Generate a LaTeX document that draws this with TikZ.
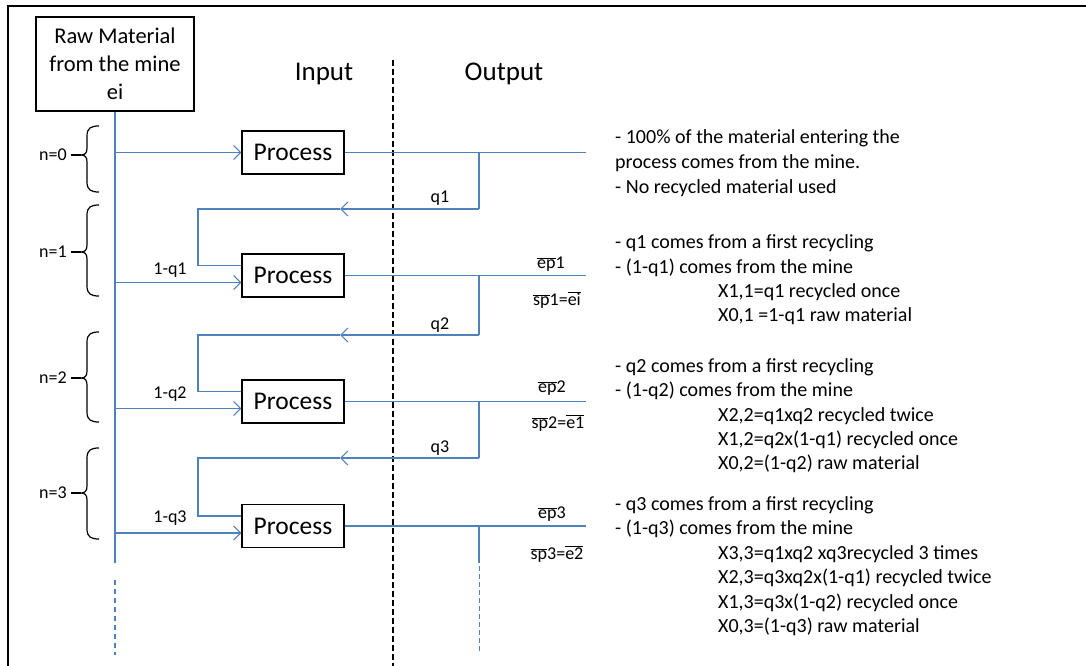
\documentclass[tikz,border=0pt]{standalone}
\usepackage{fontspec}
\setmainfont{Carlito}
\usetikzlibrary{arrows.meta}
\definecolor{flowblue}{RGB}{79,129,189}
\newcommand{\ovl}[1]{\ensuremath{\overline{\mbox{#1}}}}
\begin{document}
\begin{tikzpicture}[x=1pt,y=-1pt,
  flow/.style={draw=flowblue,line width=1.3pt},
  arr/.style={-{Straight Barb[length=7pt,width=14pt,line width=1.2pt]}},
  procbox/.style={draw,line width=1.1pt,minimum width=102pt,minimum height=43pt,inner sep=0pt,font=\fontsize{25.5}{30}\selectfont},
  lbl/.style={inner sep=0pt,font=\fontsize{18}{22}\selectfont},
  note/.style={anchor=west,inner sep=0pt,text height=14pt,text depth=4pt,font=\fontsize{20}{24}\selectfont},
  bracestyle/.style={draw,line width=1.2pt},
  frameline/.style={draw,line width=1.3pt},
  divider/.style={draw,line width=1.2pt,dash pattern=on 6pt off 3pt}]
\useasboundingbox[fill=white] (0,0) rectangle (1086,666);
\draw[frameline] (8,666) -- (8,6) -- (1086,6);

% helper x positions
\coordinate (xo) at (586,0);
\coordinate (xr) at (479,0);
\coordinate (xl) at (198,0);

% source box
\node[draw,line width=1.1pt,minimum width=158pt,minimum height=94pt,align=center,inner sep=0pt,
      font=\fontsize{22.5}{28}\selectfont] (raw) at (115,64) {Raw Material\\from the mine\\ei};

\node[font=\fontsize{27}{31}\selectfont] (inp) at (324,74) {Input};
\node[font=\fontsize{27}{31}\selectfont] (outp) at (504,74) {Output};

% divider
\coordinate (dtop) at (393,60);
\coordinate (dbot) at (393,666);
\draw[divider] (dtop) -- (dbot);

% processes
\node[procbox] (p0) at (293,152.5) {Process};
\node[procbox] (p1) at (293,275.5) {Process};
\node[procbox] (p2) at (293,401.5) {Process};
\node[procbox] (p3) at (293,526) {Process};

% main supply line
\coordinate (mbot) at (115,563);
\coordinate (md1) at (115,580);
\coordinate (md2) at (115,655);
\draw[flow] (raw.south) -- (mbot);
\draw[flow,line width=1.1pt,dash pattern=on 5pt off 4pt] (md1) -- (md2);

% supply arrows
\draw[flow,arr] (raw.south |- p0.west) -- (p0.west);
\foreach \k in {1,2,3}{
  \coordinate (a\k) at ([yshift=-7pt]p\k.west);
  \coordinate (r\k) at ([yshift=10pt]p\k.west);
  \draw[flow,arr] (raw.south |- a\k) -- (a\k);
}

% outputs
\foreach \k in {0,1,2,3}{
  \draw[flow] (p\k.east) -- (p\k.east -| xo);
}

% recycle loops
\coordinate (rc1) at (479,209); \coordinate (ah1) at (340,209); \coordinate (rt1) at (198,209);
\coordinate (rc2) at (479,335); \coordinate (ah2) at (340,335); \coordinate (rt2) at (198,335);
\coordinate (rc3) at (479,458); \coordinate (ah3) at (340,458); \coordinate (rt3) at (198,458);
\draw[flow] (p0.east -| xr) -- (rc1);
\draw[flow] (p1.east -| xr) -- (rc2);
\draw[flow] (p2.east -| xr) -- (rc3);
\foreach \k in {1,2,3}{
  \draw[flow,arr] (rc\k) -- (ah\k);
  \draw[flow] (ah\k) -- (rt\k) |- (r\k);
}
\coordinate (v3a) at (479,563);
\coordinate (v3b) at (479,566);
\coordinate (v3c) at (479,653);
\draw[flow] (p3.east -| xr) -- (v3a);
\draw[flow,line width=0.9pt,dash pattern=on 5pt off 3pt] (v3b) -- (v3c);

% flow labels
\node[lbl] (q1) at (440,198) {q1};
\node[lbl] (q2) at (440,325) {q2};
\node[lbl] (q3) at (440,448) {q3};
\node[lbl] (m1) at (170,270) {1-q1};
\node[lbl] (m2) at (170,394) {1-q2};
\node[lbl] (m3) at (170,518) {1-q3};
\node[lbl] (ep1) at (551,264) {\ovl{ep}1};
\node[lbl] (ep2) at (552,388) {\ovl{ep}2};
\node[lbl] (ep3) at (552,514) {\ovl{ep}3};
\node[lbl] (sp1) at (557,300) {\ovl{sp}1=\ovl{ei}};
\node[lbl] (sp2) at (558,423) {\ovl{sp}2=\ovl{e1}};
\node[lbl] (sp3) at (557,554) {\ovl{sp}3=\ovl{e2}};

% braces
\foreach \t/\m/\b/\k in {126/155/192/0, 205/252/296/1, 332/378/422/2, 448/493/539/3}{
  \node[lbl] (n\k) at (53,\m) {n=\k};
  \draw[bracestyle] (99,\t) .. controls (91,\t) and (87,\t+2) .. (87,\t+10)
     -- (87,\m-7) .. controls (87,\m-2) and (85,\m) .. (81,\m)
     .. controls (85,\m) and (87,\m+2) .. (87,\m+7)
     -- (87,\b-10) .. controls (87,\b-2) and (91,\b) .. (99,\b);
  \draw[bracestyle] ([xshift=4pt]n\k.east) -- (81,\m);
}

% notes
\node[note] (t01) at (615,138) {- 100\% of the material entering the};
\node[note] (t02) at (615,163) {process comes from the mine.};
\node[note] (t03) at (615,188) {- No recycled material used};
\node[note] (t11) at (615,243) {- q1 comes from a first recycling};
\node[note] (t12) at (615,268) {- (1-q1) comes from the mine};
\node[note] (t13) at (718,292) {X1,1=q1 recycled once};
\node[note] (t14) at (718,316) {X0,1 =1-q1 raw material};
\node[note] (t21) at (615,367) {- q2 comes from a first recycling};
\node[note] (t22) at (615,391) {- (1-q2) comes from the mine};
\node[note] (t23) at (718,416) {X2,2=q1xq2 recycled twice};
\node[note] (t24) at (718,440) {X1,2=q2x(1-q1) recycled once};
\node[note] (t25) at (718,464) {X0,2=(1-q2) raw material};
\node[note] (t31) at (615,505) {- q3 comes from a first recycling};
\node[note] (t32) at (615,529) {- (1-q3) comes from the mine};
\node[note] (t33) at (718,554) {X3,3=q1xq2 xq3recycled 3 times};
\node[note] (t34) at (718,578) {X2,3=q3xq2x(1-q1) recycled twice};
\node[note] (t35) at (718,603) {X1,3=q3x(1-q2) recycled once};
\node[note] (t36) at (718,627) {X0,3=(1-q3) raw material};
\end{tikzpicture}
\end{document}
